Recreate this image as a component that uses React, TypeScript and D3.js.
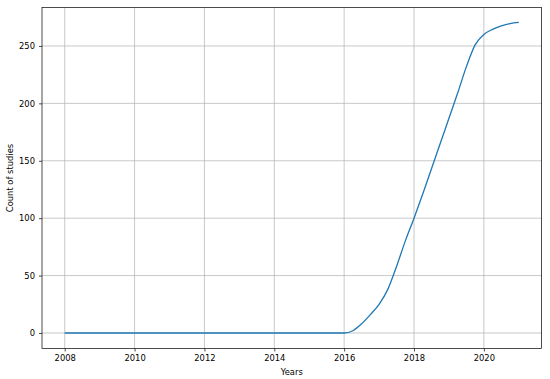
import React, { useEffect, useRef } from 'react';
import * as d3 from 'd3';

// values
const years = [
  2008, 2009, 2010, 2011, 2012, 2013, 2014, 2015, 2016,
  2016.25, 2016.5, 2016.75, 2017, 2017.25, 2017.5, 2017.75,
  2018, 2018.25, 2018.5, 2018.75, 2019, 2019.25, 2019.5, 2019.75,
  2020, 2020.25, 2020.5, 2020.75, 2021,
];
const counts = [
  0, 0, 0, 0, 0, 0, 0, 0, 0,
  2, 8, 16, 25, 38, 58, 80,
  100, 121, 143, 165, 187, 209, 232, 251,
  260, 264.5, 267.5, 269.5, 270.5,
];
const xTicks = [2008, 2010, 2012, 2014, 2016, 2018, 2020];
const yTicks = [0, 50, 100, 150, 200, 250];

const App = () => {
  const svgRef = useRef<SVGSVGElement>(null);

  useEffect(() => {
    const W = 550;
    const H = 379;
    const margin = { top: 7.5, right: 8.5, bottom: 30.5, left: 42 };
    const width = W - margin.left - margin.right;
    const height = H - margin.top - margin.bottom;
    const font = 'DejaVu Sans, sans-serif';

    const root = d3.select(svgRef.current);
    root.selectAll('*').remove();
    root.attr('width', W).attr('height', H);

    const svg = root.append('g')
      .attr('transform', `translate(${margin.left},${margin.top})`);

    const x = d3.scaleLinear().domain([2007.35, 2021.65]).range([0, width]);
    const y = d3.scaleLinear().domain([-13.5, 283.5]).range([height, 0]);

    // grid
    svg.append('g').selectAll('line')
      .data(xTicks)
      .enter()
      .append('line')
      .attr('x1', d => x(d)).attr('x2', d => x(d))
      .attr('y1', 0).attr('y2', height)
      .attr('stroke', '#b0b0b0').attr('stroke-width', 0.7);
    svg.append('g').selectAll('line')
      .data(yTicks)
      .enter()
      .append('line')
      .attr('y1', d => y(d)).attr('y2', d => y(d))
      .attr('x1', 0).attr('x2', width)
      .attr('stroke', '#b0b0b0').attr('stroke-width', 0.7);

    const line = d3.line<number>()
      .x((d, i) => x(years[i]))
      .y(d => y(d))
      .curve(d3.curveMonotoneX);

    svg.append('path')
      .datum(counts)
      .attr('d', line)
      .attr('fill', 'none')
      .attr('stroke', '#1f77b4')
      .attr('stroke-width', 1.3);

    const xAxis = svg.append('g')
      .attr('transform', `translate(0,${height})`)
      .call(d3.axisBottom(x).tickValues(xTicks).tickFormat(d3.format('d')).tickSize(3).tickPadding(4));
    const yAxis = svg.append('g')
      .call(d3.axisLeft(y).tickValues(yTicks).tickSize(3).tickPadding(4));

    [xAxis, yAxis].forEach(a => {
      a.select('.domain').remove();
      a.selectAll('line').attr('stroke', '#000').attr('stroke-width', 0.7);
      a.selectAll('text').attr('font-family', font).attr('font-size', 8.4).attr('fill', '#000');
    });

    svg.append('rect')
      .attr('width', width).attr('height', height)
      .attr('fill', 'none').attr('stroke', '#000').attr('stroke-width', 0.7);

    svg.append('text')
      .attr('x', width / 2).attr('y', height + 26)
      .attr('text-anchor', 'middle')
      .attr('font-family', font).attr('font-size', 8.4)
      .text('Years');

    svg.append('text')
      .attr('transform', `translate(${-29},${height / 2}) rotate(-90)`)
      .attr('text-anchor', 'middle')
      .attr('font-family', font).attr('font-size', 8.4)
      .text('Count of studies');
  }, []);

  return (
    <div style={{ position: 'absolute', left: 0, top: 0 }}>
      <svg ref={svgRef} style={{ display: 'block', background: '#fff' }}></svg>
    </div>
  );
};

export default App;
